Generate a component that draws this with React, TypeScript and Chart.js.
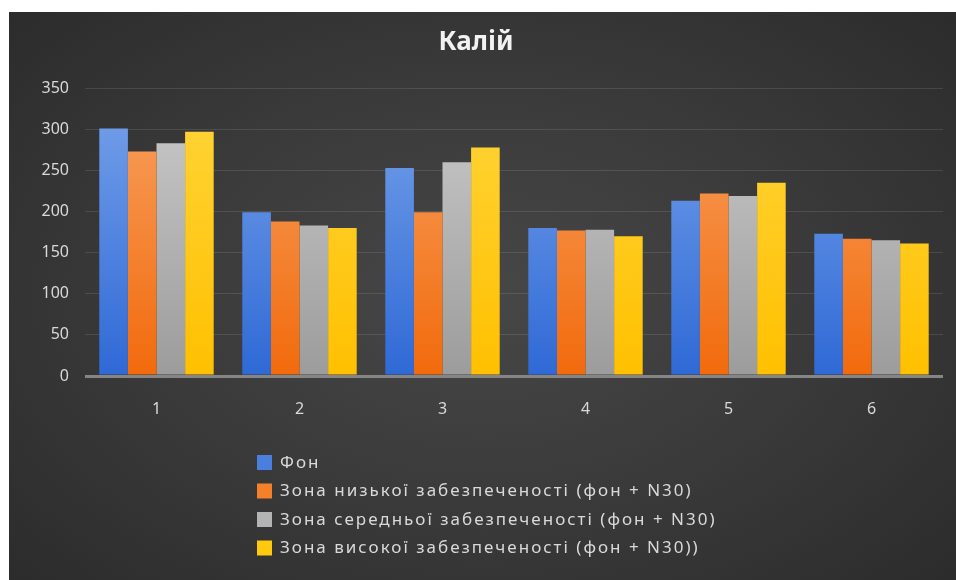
import React, { useEffect, useRef } from "react";
import { Chart, registerables } from "chart.js";

Chart.register(...registerables);

const categories = ["1", "2", "3", "4", "5", "6"];
const seriesNames = [
  "Фон",
  "Зона низької забезпеченості (фон + N30)",
  "Зона середньої забезпеченості (фон + N30)",
  "Зона високої забезпеченості (фон + N30))",
];
const fon = [301, 199, 253, 180, 213, 173];
const low = [273, 188, 199, 177, 222, 167];
const mid = [283, 183, 260, 178, 219, 165];
const high = [297, 180, 278, 170, 235, 161];
const yTicks = [0, 50, 100, 150, 200, 250, 300, 350];
const title = "Калій";

const topColors = ["#78a3ea", "#f7a262", "#cbcbcb", "#ffd53a"];
const bottomColors = ["#2f69d6", "#f26a0c", "#9c9c9c", "#ffc000"];
const legendColors = ["#4a7fe0", "#f5802a", "#b4b4b4", "#ffc90e"];

const FONT = "'Noto Sans', 'DejaVu Sans', sans-serif";

export default function App() {
  const ref = useRef<HTMLCanvasElement | null>(null);

  useEffect(() => {
    const canvas = ref.current;
    if (!canvas) return;
    const values = [fon, low, mid, high];

    const legendPlugin = {
      id: "customLegend",
      afterDraw(chart: any) {
        const c = chart.ctx;
        c.save();
        const x0 = 248;
        const y0 = 451;
        const step = 28.5;
        c.font = `17px ${FONT}`;
        try {
          (c as any).letterSpacing = "2px";
        } catch (e) {}
        c.textBaseline = "middle";
        c.textAlign = "left";
        chart.data.datasets.forEach((ds: any, i: number) => {
          const y = y0 + i * step;
          c.fillStyle = legendColors[i];
          c.fillRect(x0, y - 8, 15, 15);
          c.fillStyle = "#d9d9d9";
          c.fillText(ds.label, x0 + 23, y);
        });
        c.restore();
      },
    };

    const chart = new Chart(canvas, {
      type: "bar",
      data: {
        labels: categories,
        datasets: seriesNames.map((name, i) => ({
          label: name,
          data: values[i],
          backgroundColor: (ctx: any) => {
            const area = ctx.chart.chartArea;
            if (!area) return bottomColors[i];
            const g = ctx.chart.ctx.createLinearGradient(0, area.bottom, 0, area.top);
            g.addColorStop(0, bottomColors[i]);
            g.addColorStop(1, topColors[i]);
            return g;
          },
          borderWidth: 0,
          barPercentage: 1,
          categoryPercentage: 0.8,
        })),
      },
      options: {
        responsive: false,
        animation: false,
        layout: { padding: { left: 0, right: 13, top: 0, bottom: 154 } },
        plugins: {
          legend: { display: false },
          tooltip: { enabled: false },
          title: {
            display: true,
            text: title,
            color: "#f2f2f2",
            font: { family: FONT, size: 26, weight: "bold", lineHeight: 1.2 },
            padding: { top: 15, bottom: 30 },
          },
        },
        scales: {
          x: {
            grid: { display: false },
            border: { display: false },
            ticks: {
              color: "#d9d9d9",
              font: { family: FONT, size: 16 },
              padding: 16,
            },
            afterFit: (s: any) => {
              s.height = 50;
            },
          },
          y: {
            min: 0,
            max: 350,
            afterBuildTicks: (s: any) => {
              s.ticks = yTicks.map((v) => ({ value: v }));
            },
            grid: {
              drawTicks: false,
              color: (ctx: any) =>
                ctx.tick && ctx.tick.value === 0 ? "#858585" : "rgba(255,255,255,0.11)",
              lineWidth: (ctx: any) => (ctx.tick && ctx.tick.value === 0 ? 3 : 1),
            },
            border: { display: false },
            ticks: {
              color: "#d9d9d9",
              font: { family: FONT, size: 16 },
              padding: 16,
            },
            afterFit: (s: any) => {
              s.width = 76;
            },
          },
        },
      },
      plugins: [legendPlugin],
    });
    return () => chart.destroy();
  }, []);

  return (
    <div
      style={{
        position: "absolute",
        left: 9,
        top: 12,
        width: 947,
        height: 568,
        background:
          "radial-gradient(ellipse 70% 75% at 50% 50%, #474747 0%, #3a3a3a 50%, #2b2b2b 100%)",
      }}
    >
      <canvas ref={ref} width={947} height={568} style={{ display: "block" }} />
    </div>
  );
}
